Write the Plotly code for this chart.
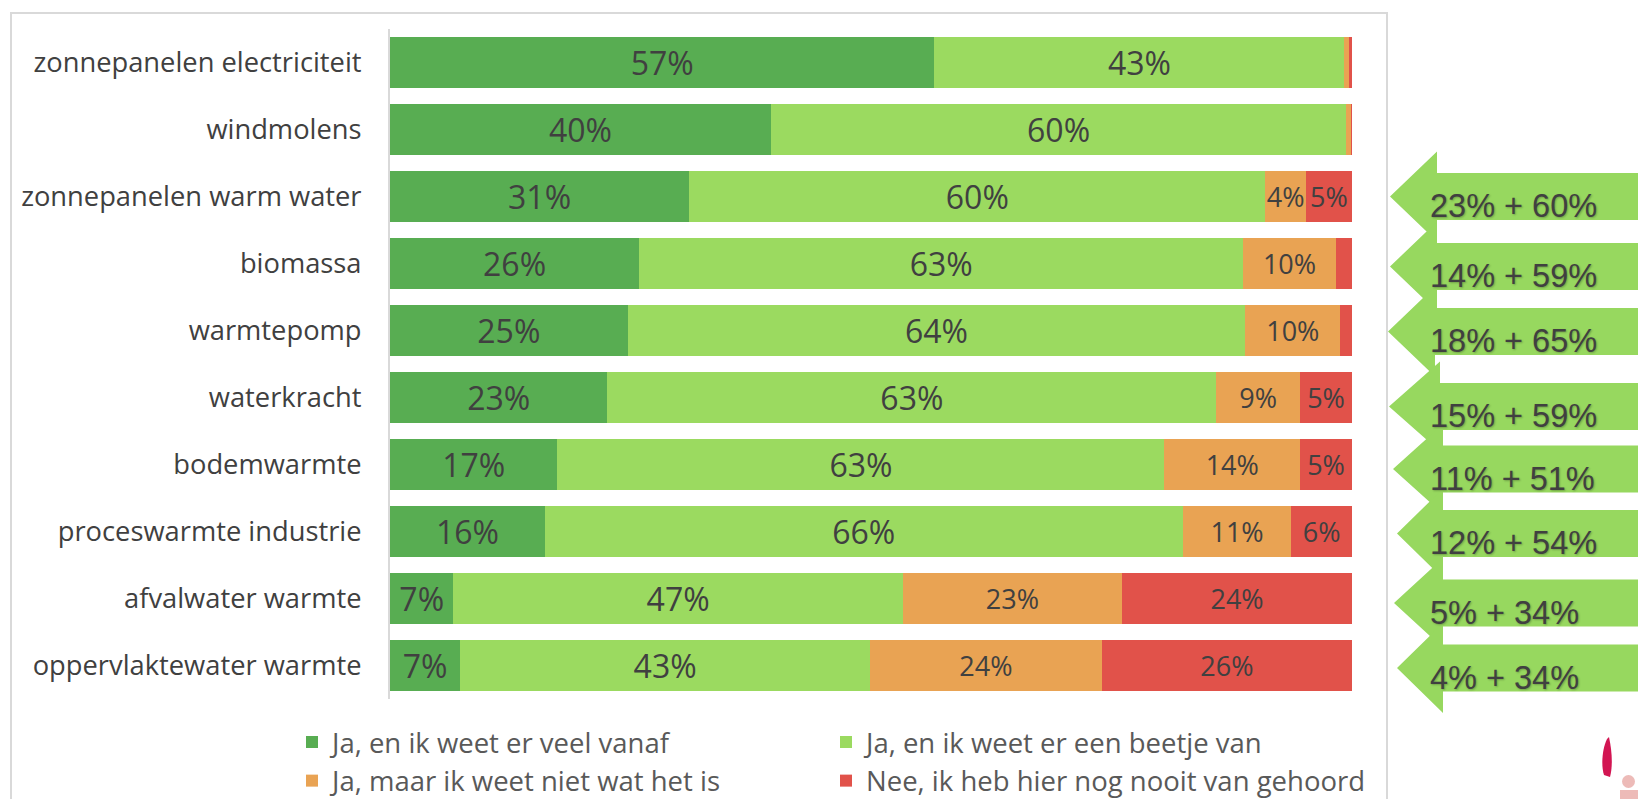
import plotly.graph_objects as go

# ---------------- data ----------------
categories = [
    "zonnepanelen electriciteit",
    "windmolens",
    "zonnepanelen warm water",
    "biomassa",
    "warmtepomp",
    "waterkracht",
    "bodemwarmte",
    "proceswarmte industrie",
    "afvalwater warmte",
    "oppervlaktewater warmte",
]
series_names = [
    "Ja, en ik weet er veel vanaf",
    "Ja, en ik weet er een beetje van",
    "Ja, maar ik weet niet wat het is",
    "Nee, ik heb hier nog nooit van gehoord",
]
veel = [56.6, 39.6, 31.1, 25.9, 24.7, 22.6, 17.4, 16.1, 6.6, 7.3]
beetje = [42.6, 59.8, 59.9, 62.8, 64.2, 63.3, 63.1, 66.3, 46.7, 42.6]
niet_wat = [0.5, 0.5, 4.2, 9.6, 9.9, 8.7, 14.1, 11.3, 22.8, 24.1]
nooit = [0.3, 0.1, 4.8, 1.7, 1.2, 5.4, 5.4, 6.3, 23.9, 26.0]

# comparison arrows (earlier measurement: veel + beetje)
vergelijk_rows = categories[2:]
vergelijk_a = [23, 14, 18, 15, 11, 12, 5, 4]
vergelijk_b = [60, 59, 65, 59, 51, 54, 34, 34]

# ---------------- style ----------------
colors = ["#58AD52", "#9BDA60", "#E9A353", "#E1524A"]
label_sizes = [32, 32, 27, 27]
legend_ids = ["legend", "legend2", "legend", "legend2"]
TEXT = "#404040"

W, H = 1638, 799
PLOT_L, PLOT_R, PLOT_T, PLOT_B = 390, 1352, 29, 699
plot_w = PLOT_R - PLOT_L
plot_h = PLOT_B - PLOT_T
n_cat = len(categories)

fig = go.Figure()
for name, vals, col, fs, lg in zip(series_names, [veel, beetje, niet_wat, nooit],
                                   colors, label_sizes, legend_ids):
    fig.add_trace(go.Bar(
        y=categories, x=vals, orientation="h", name=name,
        marker=dict(color=col, line=dict(width=0)),
        text=[f"{round(v)}%" if v >= 3 else "" for v in vals],
        textposition="inside", insidetextanchor="middle", textangle=0,
        constraintext="none",
        textfont=dict(family="Open Sans", size=fs, color=TEXT),
        legend=lg, hoverinfo="skip",
    ))

# arrows on the right (anchored to the category rows, in paper units so they are not clipped)
arrow_dy = [0, 3, 1, 9, 4.5, 2, 4.5, 2.6]        # px below row centre
arrow_tip = [38, 38, 36, 37, 41, 45, 42, 45]      # px right of plot edge
arrow_back = [85, 85, 83, 88, 91, 91, 91, 91]
HEAD, SHAFT, RIGHT = 45, 23.5, 320
shapes = []
annotations = []
for row, a, b, dy, tip, back in zip(vergelijk_rows, vergelijk_a, vergelijk_b,
                                     arrow_dy, arrow_tip, arrow_back):
    row_paper = 1 - (categories.index(row) + 0.5) / n_cat
    c = -dy
    path = (f"M{tip},{c} L{back},{c + HEAD} L{back},{c + SHAFT} L{RIGHT},{c + SHAFT} "
            f"L{RIGHT},{c - SHAFT} L{back},{c - SHAFT} L{back},{c - HEAD} Z")
    shapes.append(dict(type="path", path=path, xref="paper", xsizemode="pixel", xanchor=1,
                       yref="paper", ysizemode="pixel", yanchor=row_paper,
                       fillcolor="#97D85F", line=dict(width=0), layer="above"))
    annotations.append(dict(text=f"{a}% + {b}%", x=1, xref="paper", xanchor="left", xshift=76,
                            y=row, yref="y", yanchor="middle", yshift=-(dy + 9.5),
                            showarrow=False,
                            font=dict(family="Liberation Sans, Arial", size=32.5, color=TEXT,
                                      shadow="1px 1px 2px rgba(0,0,0,0.25)")))

# outer chart border
shapes.append(dict(type="rect", xref="paper", xsizemode="pixel", xanchor=0,
                   x0=11 - PLOT_L, x1=1387 - PLOT_L,
                   yref="paper", ysizemode="pixel", yanchor=1,
                   y0=PLOT_T - 13, y1=-(H + 20 - PLOT_T),
                   line=dict(color="#D9D9D9", width=2), fillcolor="rgba(0,0,0,0)", layer="below"))

# fragment of a logo in the bottom-right corner
shapes.append(dict(type="path", xref="paper", xsizemode="pixel", xanchor=1,
                   yref="paper", ysizemode="pixel", yanchor=0,
                   path="M255,-40 C250,-50 249,-67 252,-76 L258,-78 C261,-67 260,-52 257,-38 Z",
                   fillcolor="#D21552", line=dict(width=0), layer="above"))
shapes.append(dict(type="circle", xref="paper", xsizemode="pixel", xanchor=1,
                   yref="paper", ysizemode="pixel", yanchor=0,
                   x0=270, x1=283, y0=-76, y1=-89,
                   fillcolor="#EDBBB8", line=dict(width=0), layer="above"))
shapes.append(dict(type="rect", xref="paper", xsizemode="pixel", xanchor=1,
                   yref="paper", ysizemode="pixel", yanchor=0,
                   x0=268, x1=290, y0=-91, y1=-110,
                   fillcolor="#EDBBB8", line=dict(width=0), layer="above"))

leg_common = dict(xanchor="left", yanchor="top", traceorder="normal",
                  font=dict(family="Open Sans", size=27.5, color="#595959"),
                  bgcolor="rgba(0,0,0,0)", tracegroupgap=0, orientation="v")
leg_top = 717.5
fig.update_layout(
    width=W, height=H,
    margin=dict(l=PLOT_L, r=W - PLOT_R, t=PLOT_T, b=H - PLOT_B, pad=0, autoexpand=False),
    barmode="stack", bargap=0.25,
    plot_bgcolor="white", paper_bgcolor="white",
    font=dict(family="Open Sans", color=TEXT),
    xaxis=dict(range=[0, 100], visible=False, fixedrange=True),
    yaxis=dict(categoryorder="array", categoryarray=categories,
               range=[n_cat - 0.5, -0.5], autorange=False,
               showline=True, linecolor="#D9D9D9", linewidth=2, ticks="", showgrid=False,
               tickfont=dict(family="Open Sans", size=27.3, color=TEXT),
               ticklabelstandoff=21, fixedrange=True),
    legend=dict(x=(292 - PLOT_L) / plot_w, y=1 - (leg_top - PLOT_T) / plot_h, **leg_common),
    legend2=dict(x=(826 - PLOT_L) / plot_w, y=1 - (leg_top - PLOT_T) / plot_h, **leg_common),
    showlegend=True,
    shapes=shapes,
    annotations=annotations,
)

fig.write_html(
    "out.html",
    config={"displayModeBar": False},
    post_script="document.body.style.margin='0';document.body.style.overflow='hidden';",
)
